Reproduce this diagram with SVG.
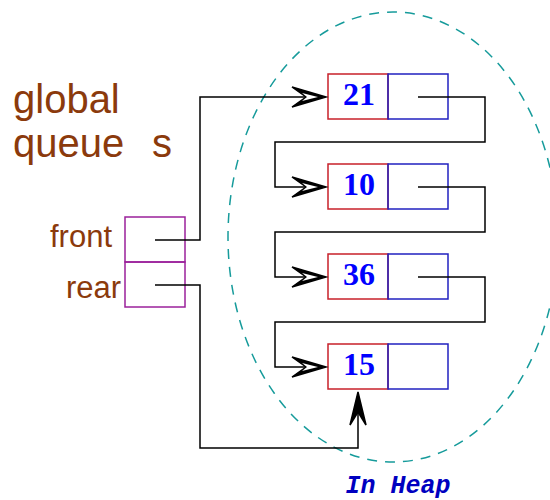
<svg xmlns="http://www.w3.org/2000/svg" width="550" height="500" viewBox="0 0 550 500">
  <style>
    .label { font-family: "Liberation Sans", Arial, sans-serif; fill: #8b3a0c; }
    .num { font-family: "Liberation Serif", "Times New Roman", serif; font-weight: bold; font-size: 32px; fill: #0000ff; text-anchor: middle; }
    .qbox { fill: none; stroke: #9b209b; stroke-width: 1.5; }
    .data { fill: none; stroke: #c8202a; stroke-width: 1.5; }
    .next { fill: none; stroke: #2020c0; stroke-width: 1.5; }
    .wire { fill: none; stroke: #000; stroke-width: 1.5; }
    .head { fill: #000; stroke: #000; stroke-width: 1.5; stroke-linejoin: miter; }
    .slit { fill: #fff; }
  </style>
  <rect width="550" height="500" fill="#fff"/>

  <!-- heap region -->
  <ellipse id="heap" cx="393" cy="237" rx="165" ry="225" fill="none" stroke="#169b9b" stroke-width="1.5" stroke-dasharray="10 8"/>
  <text x="398" y="493" text-anchor="middle" font-family="Liberation Mono, Courier New, monospace" font-weight="bold" font-style="italic" font-size="25" fill="#0000c0">In Heap</text>

  <!-- title -->
  <text class="label" x="13" y="113" font-size="40">global</text>
  <text class="label" x="13" y="157" font-size="40">queue<tspan x="152">s</tspan></text>

  <!-- queue struct -->
  <g id="queue">
    <rect class="qbox" x="125" y="217" width="60" height="45"/>
    <rect class="qbox" x="125" y="262" width="60" height="45"/>
    <text class="label" x="50" y="247" font-size="31">front</text>
    <text class="label" x="66" y="298" font-size="31">rear</text>
  </g>

  <!-- list nodes -->
  <g id="node21">
    <rect class="data" x="328" y="74" width="60" height="45"/>
    <rect class="next" x="388" y="74" width="60" height="45"/>
    <text class="num" x="359" y="105">21</text>
  </g>
  <g id="node10">
    <rect class="data" x="328" y="164" width="60" height="45"/>
    <rect class="next" x="388" y="164" width="60" height="45"/>
    <text class="num" x="359" y="195">10</text>
  </g>
  <g id="node36">
    <rect class="data" x="328" y="254" width="60" height="45"/>
    <rect class="next" x="388" y="254" width="60" height="45"/>
    <text class="num" x="359" y="285">36</text>
  </g>
  <g id="node15">
    <rect class="data" x="328" y="344" width="60" height="45"/>
    <rect class="next" x="388" y="344" width="60" height="45"/>
    <text class="num" x="359" y="375">15</text>
  </g>

  <!-- pointers -->
  <g id="connectors">
    <path class="wire" d="M155,240 H200 V97 H305"/>
    <path class="wire" d="M418,97 H485 V142 H275 V187 H305"/>
    <path class="wire" d="M418,187 H485 V232 H275 V277 H305"/>
    <path class="wire" d="M418,277 H485 V322 H275 V367 H305"/>
    <path class="wire" d="M155,285 H200 V448 H358 V412"/>
    <path class="head" d="M326,97 L292,87 L306,97 L292,107 Z"/>
    <path class="slit" d="M318,97 L302,93 L307,97 L302,101 Z"/>
    <path class="head" d="M326,187 L292,177 L306,187 L292,197 Z"/>
    <path class="slit" d="M318,187 L302,183 L307,187 L302,191 Z"/>
    <path class="head" d="M326,277 L292,267 L306,277 L292,287 Z"/>
    <path class="slit" d="M318,277 L302,273 L307,277 L302,281 Z"/>
    <path class="head" d="M326,367 L292,357 L306,367 L292,377 Z"/>
    <path class="slit" d="M318,367 L302,363 L307,367 L302,371 Z"/>
    <path class="head" d="M358,392 L350,425 L358,412 L366,425 Z"/>
  </g>
</svg>
